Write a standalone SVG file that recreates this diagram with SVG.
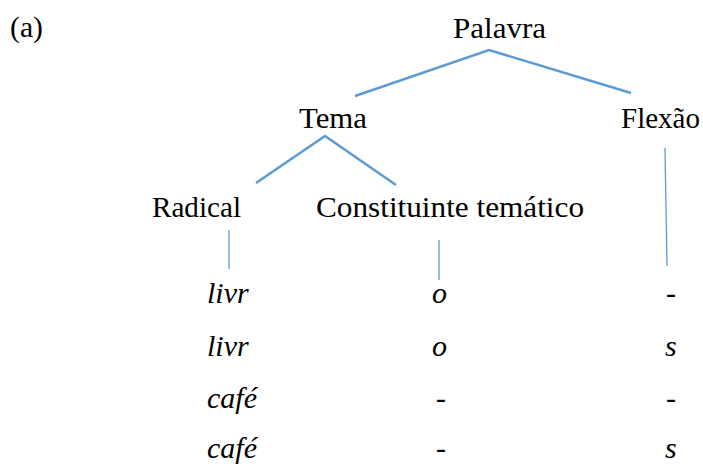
<svg xmlns="http://www.w3.org/2000/svg" width="703" height="464" viewBox="0 0 703 464">
<style>
text{font-family:"Liberation Serif","Times New Roman",serif;font-size:30px;fill:#000}
.it{font-style:italic}
.br{stroke:#5B9BD5;stroke-width:2.5;fill:none}
.vt{stroke:#5B9BD5;stroke-width:1.3;fill:none}
</style>
<rect width="703" height="464" fill="#fff"/>
<text x="10" y="37" textLength="33" lengthAdjust="spacingAndGlyphs">(a)</text>
<g id="palavra"><text x="453" y="38" textLength="93" lengthAdjust="spacingAndGlyphs">Palavra</text></g>
<g id="tema"><text x="299" y="128" textLength="68" lengthAdjust="spacingAndGlyphs">Tema</text></g>
<g id="flexao"><text x="621" y="128" textLength="79" lengthAdjust="spacingAndGlyphs">Flexão</text></g>
<g id="radical"><text x="152" y="217" textLength="89" lengthAdjust="spacingAndGlyphs">Radical</text></g>
<g id="constituinte"><text x="316" y="217" textLength="268" lengthAdjust="spacingAndGlyphs">Constituinte temático</text></g>
<g id="connectors">
<polyline class="br" points="355,96 489,50 631,93"/>
<polyline class="br" points="256,183 325,136 396,185"/>
<line class="vt" x1="229" y1="230" x2="229" y2="269"/>
<line class="vt" x1="439" y1="240" x2="439" y2="280"/>
<line class="vt" x1="665" y1="148" x2="667" y2="266"/>
</g>
<g id="rows">
<text class="it" x="207" y="303">livr</text>
<text class="it" x="432" y="303">o</text>
<text x="666" y="303">-</text>
<text class="it" x="207" y="356">livr</text>
<text class="it" x="432" y="356">o</text>
<text class="it" x="665" y="356">s</text>
<text class="it" x="207" y="408">café</text>
<text x="436" y="408">-</text>
<text x="666" y="408">-</text>
<text class="it" x="207" y="458">café</text>
<text x="436" y="458">-</text>
<text class="it" x="665" y="458">s</text>
</g>
</svg>
